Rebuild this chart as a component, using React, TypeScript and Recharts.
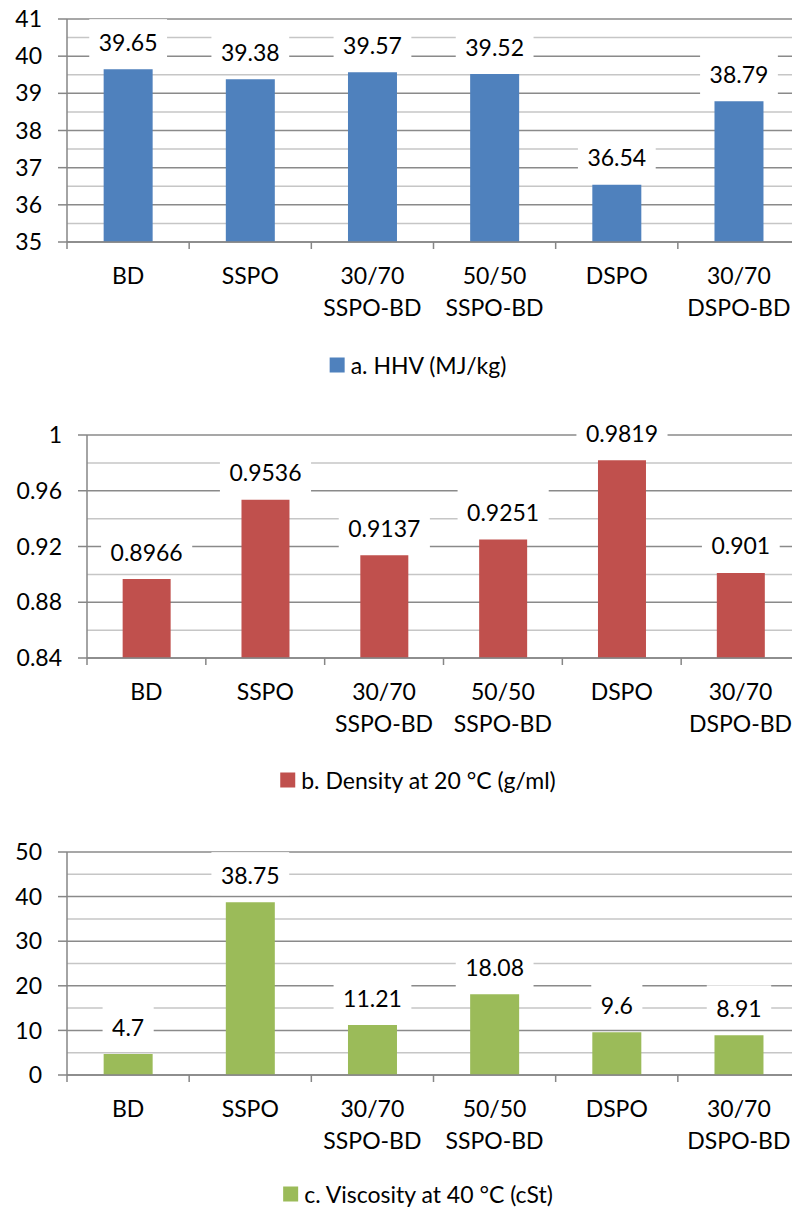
import React from 'react';
import { BarChart, Bar, XAxis, YAxis, CartesianGrid, LabelList } from 'recharts';

// Fuel properties of biodiesel (BD), pyrolysis oils (SSPO, DSPO) and their blends
const categories = ['BD', 'SSPO', '30/70 SSPO-BD', '50/50 SSPO-BD', 'DSPO', '30/70 DSPO-BD'];

const hhv = [39.65, 39.38, 39.57, 39.52, 36.54, 38.79];
const density = [0.8966, 0.9536, 0.9137, 0.9251, 0.9819, 0.901];
const viscosity = [4.7, 38.75, 11.21, 18.08, 9.6, 8.91];

const hhvTicks = [35, 36, 37, 38, 39, 40, 41];
const hhvMinorTicks = [35.5, 36.5, 37.5, 38.5, 39.5, 40.5];
const densityTicks = [0.84, 0.88, 0.92, 0.96, 1];
const densityMinorTicks = [0.86, 0.9, 0.94, 0.98];
const viscosityTicks = [0, 10, 20, 30, 40, 50];
const viscosityMinorTicks = [5, 15, 25, 35, 45];

const FONT = 'Lato, "Open Sans", sans-serif';
const FONT_SIZE = 23;
const AXIS_GREY = '#868686';
const MAJOR_GRID = '#8a8a8a';
const MINOR_GRID = '#c6c6c6';

let measureCtx: CanvasRenderingContext2D | null = null;
function textWidth(s: string): number {
  if (!measureCtx) {
    const c = document.createElement('canvas');
    measureCtx = c.getContext('2d');
  }
  if (!measureCtx) return s.length * FONT_SIZE * 0.55;
  measureCtx.font = `${FONT_SIZE}px Lato`;
  return measureCtx.measureText(s).width;
}

// value label in a white box sitting above each bar
function ValueLabel(props: any) {
  const { x, y, width, value } = props;
  const cx = Number(x) + Number(width) / 2;
  const top = Number(y);
  const text = String(value);
  const w = textWidth(text) + 19;
  return (
    <g>
      <rect x={cx - w / 2} y={top - 50} width={w} height={43} fill="#ffffff" />
      <text
        x={cx}
        y={top - 18.5}
        textAnchor="middle"
        fontFamily={FONT}
        fontSize={FONT_SIZE}
        fill="#000"
      >
        {text}
      </text>
    </g>
  );
}

// category label (wrapped on the space) with a tick mark at the left band edge
function makeCategoryTick(halfBand: number) {
  return function CategoryTick(props: any) {
    const { x, y, payload } = props;
    const half = payload && typeof payload.offset === 'number' && payload.offset > 0 ? payload.offset : halfBand;
    const lines = String(payload.value).split(' ');
    return (
      <g>
        <line x1={x - half} x2={x - half} y1={y} y2={y + 7} stroke={AXIS_GREY} strokeWidth={1.5} />
        {lines.map((line, i) => (
          <text
            key={i}
            x={x}
            y={y + 42 + i * 32}
            textAnchor="middle"
            fontFamily={FONT}
            fontSize={FONT_SIZE}
            fill="#000"
          >
            {line}
          </text>
        ))}
      </g>
    );
  };
}

const fmt = (v: number) => String(Number(v.toFixed(4)));

interface PanelProps {
  top: number;
  values: number[];
  color: string;
  ticks: number[];
  minorTicks: number[];
  axisWidth: number;
  legend: string;
  legendGap: number;
}

const CHART_W = 810;
const CHART_H = 400;
const PLOT_TOP = 19;
const PLOT_H = 223;
const PLOT_RIGHT = 800;

function Panel({ top, values, color, ticks, minorTicks, axisWidth, legend, legendGap }: PanelProps) {
  const rows = categories.map((name, i) => ({ name, value: values[i] }));
  const halfBand = (PLOT_RIGHT - axisWidth) / categories.length / 2;
  return (
    <div style={{ position: 'absolute', left: 0, top, width: CHART_W, height: CHART_H }}>
      <BarChart
        width={CHART_W}
        height={CHART_H}
        data={rows}
        margin={{ top: PLOT_TOP, right: CHART_W - PLOT_RIGHT, left: 0, bottom: 0 }}
        barCategoryGap="30%"
      >
        <CartesianGrid vertical={false} horizontalValues={minorTicks} stroke={MINOR_GRID} strokeWidth={1.5} />
        <CartesianGrid vertical={false} horizontalValues={ticks} stroke={MAJOR_GRID} strokeWidth={1.5} />
        <XAxis
          dataKey="name"
          height={CHART_H - PLOT_TOP - PLOT_H}
          tickLine={false}
          tickSize={0}
          tickMargin={0}
          axisLine={{ stroke: AXIS_GREY, strokeWidth: 1.5 }}
          interval={0}
          tick={makeCategoryTick(halfBand)}
        />
        <YAxis
          width={axisWidth}
          type="number"
          domain={[ticks[0], ticks[ticks.length - 1]]}
          ticks={ticks}
          interval={0}
          allowDataOverflow
          tickFormatter={fmt}
          tickSize={9}
          tickMargin={16}
          tickLine={{ stroke: AXIS_GREY, strokeWidth: 1.5 }}
          axisLine={{ stroke: AXIS_GREY, strokeWidth: 1.5 }}
          tick={{ fontFamily: FONT, fontSize: FONT_SIZE, fill: '#000' }}
        />
        <Bar dataKey="value" fill={color} isAnimationActive={false}>
          <LabelList dataKey="value" content={ValueLabel} />
        </Bar>
      </BarChart>
      <div
        style={{
          position: 'absolute',
          left: 418,
          top: PLOT_TOP + PLOT_H + legendGap,
          transform: 'translate(-50%, -50%)',
          display: 'flex',
          alignItems: 'center',
          whiteSpace: 'nowrap',
          fontFamily: FONT,
          fontSize: FONT_SIZE,
          color: '#000',
          lineHeight: 1,
        }}
      >
        <span style={{ display: 'inline-block', width: 15, height: 15, background: color, marginRight: 6 }} />
        <span>{legend}</span>
      </div>
    </div>
  );
}

export default function App() {
  return (
    <div
      style={{
        position: 'absolute',
        left: 0,
        top: 0,
        width: 792,
        height: 1209,
        overflow: 'hidden',
        background: '#ffffff',
      }}
    >
      <Panel
        top={0}
        values={hhv}
        color="#4f81bd"
        ticks={hhvTicks}
        minorTicks={hhvMinorTicks}
        axisWidth={67}
        legend="a. HHV (MJ/kg)"
        legendGap={123}
      />
      <Panel
        top={416}
        values={density}
        color="#c0504d"
        ticks={densityTicks}
        minorTicks={densityMinorTicks}
        axisWidth={87}
        legend="b. Density at 20 °C (g/ml)"
        legendGap={122}
      />
      <Panel
        top={833}
        values={viscosity}
        color="#9bbb59"
        ticks={viscosityTicks}
        minorTicks={viscosityMinorTicks}
        axisWidth={67}
        legend="c. Viscosity at 40 °C (cSt)"
        legendGap={119}
      />
    </div>
  );
}
